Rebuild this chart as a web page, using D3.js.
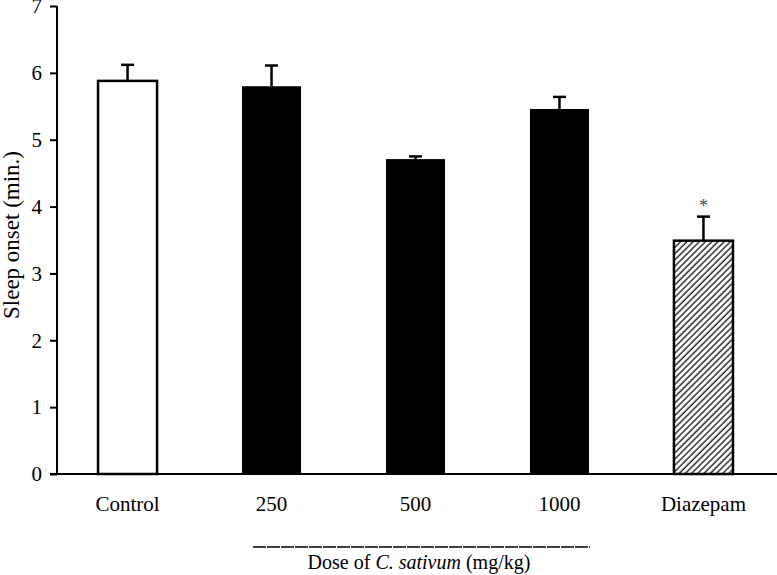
<!DOCTYPE html>
<html lang="en">
    <head>
        <meta charset="utf-8">
        <title>Sleep onset</title>
        <script src="https://d3js.org/d3.v7.min.js"></script>
        <style type="text/css">
        body {
            margin: 0;
            background-color: white;
        }
        svg {
            display: block;
        }
        svg text {
            font-family: "Liberation Serif", "Times New Roman", serif;
            fill: black;
        }
        .tick text {
            font-size: 21px;
        }
        </style>
    </head>
    <body>
        <script>
        // values
        var groups = ["Control", "250", "500", "1000", "Diazepam"];
        var means  = [5.88, 5.80, 4.71, 5.46, 3.49];
        var sems   = [0.24, 0.31, 0.04, 0.18, 0.36];
        var fills  = ["white", "black", "black", "black", "hatch"];
        var marks  = ["", "", "", "", "*"];
        var yTicks = [0, 1, 2, 3, 4, 5, 6, 7];

        var width = 777,
            height = 575;

        var svg = d3.select("body").append("svg")
            .attr("width", width)
            .attr("height", height);

        var pattern = svg.append("defs").append("pattern")
            .attr("id", "hatch")
            .attr("patternUnits", "userSpaceOnUse")
            .attr("width", 4.4)
            .attr("height", 4.4)
            .attr("patternTransform", "rotate(45)");
        pattern.append("rect")
            .attr("width", 4.4).attr("height", 4.4).attr("fill", "white");
        pattern.append("line")
            .attr("x1", 1).attr("y1", 0).attr("x2", 1).attr("y2", 4.4)
            .attr("stroke", "#222").attr("stroke-width", 1.4);

        var x0 = 57;
        var y = d3.scaleLinear().domain([0, 7]).range([474, 6]);
        var x = d3.scaleBand().domain(groups)
            .range([x0, 774])
            .paddingInner(0.59)
            .paddingOuter(0.285);

        // bars
        var bars = svg.selectAll("g.bar")
            .data(groups)
            .enter()
            .append("g")
            .attr("class", "bar");

        bars.append("rect")
            .attr("x", function(d) { return x(d); })
            .attr("y", function(d, i) { return y(means[i]); })
            .attr("width", x.bandwidth())
            .attr("height", function(d, i) { return y(0) - y(means[i]); })
            .attr("fill", function(d, i) { return fills[i] == "hatch" ? "url(#hatch)" : fills[i]; })
            .attr("stroke", "black")
            .attr("stroke-width", function(d, i) { return fills[i] == "black" ? 0 : 2.5; });

        // error bars (upper half only)
        var cx = function(d) { return x(d) + x.bandwidth() / 2; };
        bars.append("line")
            .attr("x1", cx).attr("x2", cx)
            .attr("y1", function(d, i) { return y(means[i]); })
            .attr("y2", function(d, i) { return y(means[i] + sems[i]); })
            .attr("stroke", "black").attr("stroke-width", 2.5);
        bars.append("line")
            .attr("x1", function(d) { return cx(d) - 6.5; })
            .attr("x2", function(d) { return cx(d) + 6.5; })
            .attr("y1", function(d, i) { return y(means[i] + sems[i]); })
            .attr("y2", function(d, i) { return y(means[i] + sems[i]); })
            .attr("stroke", "black").attr("stroke-width", 2.5);

        bars.append("text")
            .attr("x", cx)
            .attr("y", function(d, i) { return y(means[i] + sems[i]) - 5; })
            .attr("text-anchor", "middle")
            .attr("font-size", "18px")
            .style("fill", "#444")
            .text(function(d, i) { return marks[i]; });

        // y axis
        var yAxis = svg.append("g")
            .attr("transform", "translate(" + x0 + ",0)")
            .call(d3.axisLeft(y).tickValues(yTicks).tickFormat(d3.format("d")).tickSize(7).tickPadding(8));
        yAxis.selectAll("path, line").attr("stroke", "black").attr("stroke-width", 2);
        yAxis.select(".domain").attr("d", "M0," + y(0) + "V" + y(7));

        // x axis
        var xAxis = svg.append("g")
            .attr("transform", "translate(0," + y(0) + ")")
            .call(d3.axisBottom(x).tickSize(0).tickPadding(22));
        xAxis.select(".domain").remove();
        svg.append("line")
            .attr("x1", 50).attr("x2", width)
            .attr("y1", y(0)).attr("y2", y(0))
            .attr("stroke", "black").attr("stroke-width", 2);

        // axis titles
        svg.append("text")
            .attr("transform", "translate(19,235) rotate(-90)")
            .attr("text-anchor", "middle")
            .attr("font-size", "23px")
            .text("Sleep onset (min.)");

        svg.append("line")
            .attr("x1", 253).attr("x2", 590)
            .attr("y1", 547).attr("y2", 547)
            .attr("stroke", "black").attr("stroke-width", 1.3)
            .attr("stroke-dasharray", "13,1");

        var title = svg.append("text")
            .attr("x", 419)
            .attr("y", 569)
            .attr("text-anchor", "middle")
            .attr("font-size", "20px");
        title.append("tspan").text("Dose of ");
        title.append("tspan").attr("font-style", "italic").text("C. sativum");
        title.append("tspan").text(" (mg/kg)");
        </script>
    </body>
</html>
